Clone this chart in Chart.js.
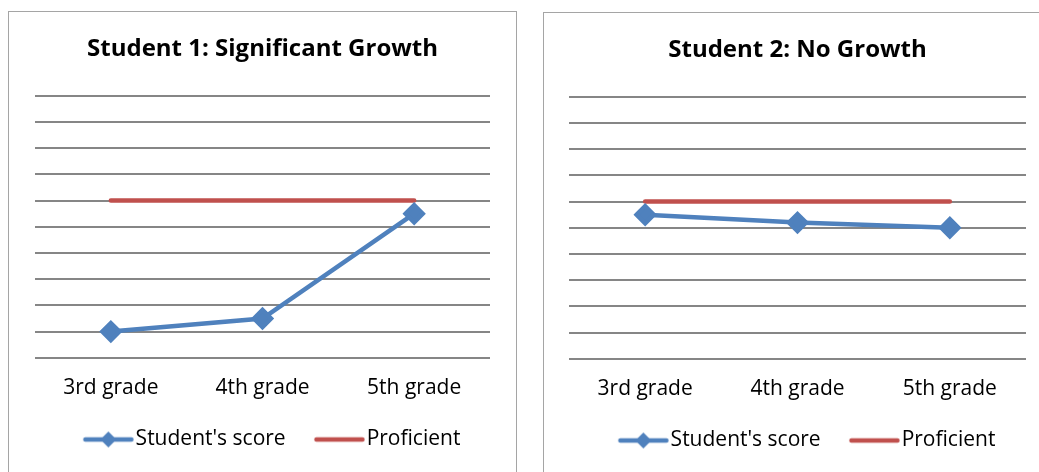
<!DOCTYPE html>
<html>
<head>
<meta charset="utf-8">
<script src="https://cdn.jsdelivr.net/npm/chart.js@4"></script>
<style>
  html, body { margin: 0; padding: 0; background: #fff; overflow: hidden; width: 1039px; height: 472px; }
  .panel { position: absolute; border: 1px solid #a5a5a5; background: #fff; }
  #p1 { left: 8px; top: 11px; width: 507px; height: 470px; }
  #p2 { left: 543px; top: 12px; width: 510px; height: 470px; }
</style>
</head>
<body>
<div class="panel" id="p1"><canvas id="chart1" width="507" height="448"></canvas></div>
<div class="panel" id="p2"><canvas id="chart2" width="510" height="448"></canvas></div>
<script>
var grades = ["3rd grade", "4th grade", "5th grade"]
var student1Scores = [1, 1.5, 5.5]
var student2Scores = [5.5, 5.2, 5.0]
var proficientLevel = [6, 6, 6]
var scoreMin = 0
var scoreMax = 10

var blue = "#4f81bd"
var red = "#c0504d"

Chart.defaults.font.family = "'Open Sans'"
Chart.defaults.color = "#000"

// legend symbols: a thick line (with a diamond for the score series),
// pushed to the right end of the box so the label sits close to it
function legendSymbol(color, diamond) {
  var c = document.createElement("canvas")
  c.width = 80
  c.height = 20
  var ctx = c.getContext("2d")
  ctx.strokeStyle = color
  ctx.lineWidth = 4.5
  ctx.lineCap = "round"
  ctx.beginPath()
  ctx.moveTo(30.5, 10)
  ctx.lineTo(76.5, 10)
  ctx.stroke()
  if (diamond) {
    ctx.fillStyle = color
    ctx.beginPath()
    ctx.moveTo(53.5, 2)
    ctx.lineTo(61.5, 10)
    ctx.lineTo(53.5, 18)
    ctx.lineTo(45.5, 10)
    ctx.closePath()
    ctx.fill()
  }
  return c
}

function makeChart(id, title, scores, padLeft, padRight) {
  var symbols = [legendSymbol(blue, true), legendSymbol(red, false)]
  return new Chart(id, {
    type: "line",
    data: {
      labels: grades,
      datasets: [{
        label: "Student's score",
        data: scores,
        borderColor: blue,
        backgroundColor: blue,
        borderWidth: 4.5,
        pointStyle: "rectRot",
        pointRadius: 8.5,
        pointHoverRadius: 8.5,
        tension: 0
      }, {
        label: "Proficient",
        data: proficientLevel,
        borderColor: red,
        backgroundColor: red,
        borderWidth: 4.5,
        borderCapStyle: "round",
        pointRadius: 0,
        pointHoverRadius: 0,
        tension: 0
      }]
    },
    options: {
      responsive: false,
      animation: false,
      layout: { padding: { left: padLeft, right: padRight, top: 0, bottom: 0 } },
      scales: {
        x: {
          offset: true,
          grid: { display: false, drawTicks: false },
          border: { display: false },
          ticks: { padding: 18, font: { size: 21 }, color: "#000" }
        },
        y: {
          min: scoreMin,
          max: scoreMax,
          ticks: { display: false, stepSize: 1 },
          grid: { color: "#868686", lineWidth: 2, drawTicks: false },
          border: { display: false }
        }
      },
      plugins: {
        title: {
          display: true,
          text: title,
          color: "#000",
          font: { size: 24, weight: "bold" },
          padding: { top: 23, bottom: 32 }
        },
        legend: {
          position: "bottom",
          labels: {
            usePointStyle: true,
            pointStyleWidth: 60.5,
            padding: 10,
            font: { size: 21 },
            color: "#000",
            generateLabels: function (chart) {
              return chart.data.datasets.map(function (ds, i) {
                return {
                  text: ds.label,
                  pointStyle: symbols[i],
                  fillStyle: ds.borderColor,
                  strokeStyle: ds.borderColor,
                  lineWidth: 0,
                  hidden: false,
                  datasetIndex: i,
                  fontColor: "#000"
                }
              })
            }
          }
        },
        tooltip: { enabled: false }
      }
    }
  })
}

makeChart("chart1", "Student 1: Significant Growth", student1Scores, 26, 26)
makeChart("chart2", "Student 2: No Growth", student2Scores, 25, 28)
</script>
</body>
</html>
